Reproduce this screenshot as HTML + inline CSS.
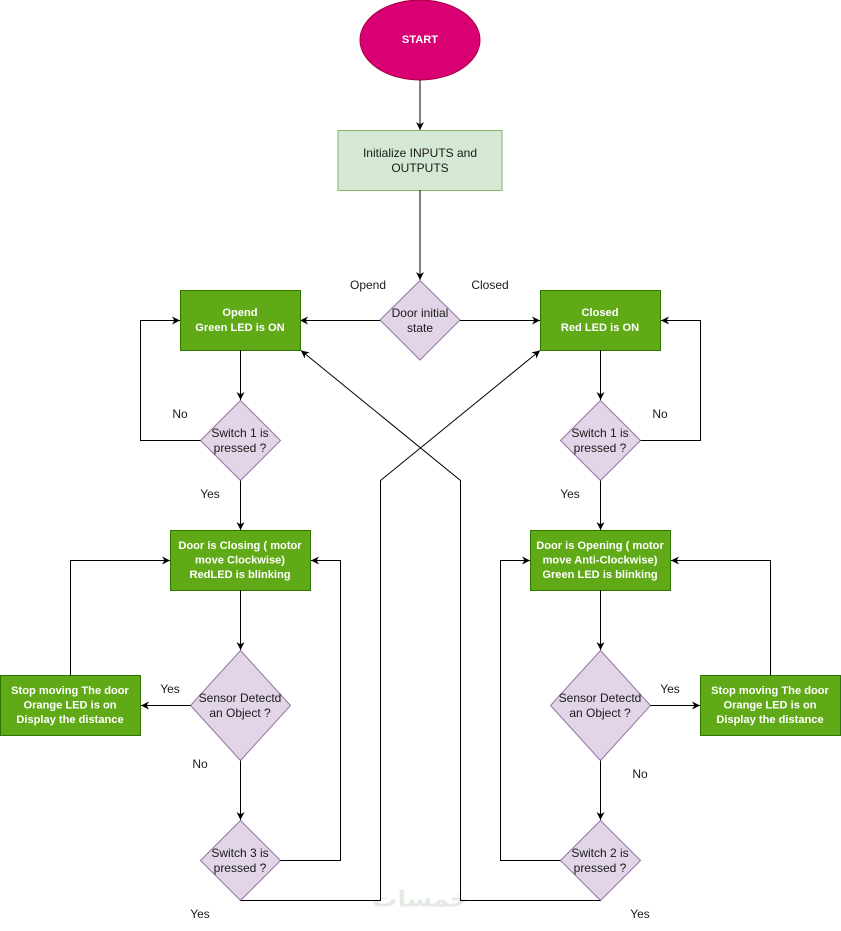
<!DOCTYPE html>
<html>
<head>
<meta charset="utf-8">
<style>
html,body{margin:0;padding:0;background:#fff;}
svg{display:block;}
text{font-family:"Liberation Sans",Arial,sans-serif;font-size:12px;}
.d{fill:#1a1a1a;text-anchor:middle;dominant-baseline:central;}
.w{fill:#fff;font-weight:bold;font-size:11.1px;text-anchor:middle;dominant-baseline:central;}
.l{fill:#1a1a1a;text-anchor:middle;dominant-baseline:central;}
.box{fill:#60a917;stroke:#2d7600;stroke-width:1;}
.dia{fill:#e1d5e7;stroke:#9673a6;stroke-width:1;}
.ln{fill:none;stroke:#000;stroke-width:1;}
</style>
</head>
<body>
<svg width="841" height="931" viewBox="0 0 841 931" xmlns="http://www.w3.org/2000/svg">
<defs>
<marker id="a" viewBox="0 0 10 10" refX="10" refY="5" markerWidth="8" markerHeight="8" markerUnits="userSpaceOnUse" orient="auto">
<path d="M0,0 L10,5 L0,10 L3,5 z" fill="#000"/>
</marker>
</defs>

<!-- watermark -->
<text x="420" y="900" style="font-family:'DejaVu Sans',sans-serif;font-size:22px;font-weight:bold;fill:#e2eae1;text-anchor:middle;dominant-baseline:central;" textLength="96" lengthAdjust="spacingAndGlyphs">خمسات</text>

<!-- START -->
<ellipse cx="420" cy="40" rx="60" ry="40" fill="#d80073" stroke="#a50040"/>
<text class="w" x="420" y="40">START</text>
<line class="ln" x1="420" y1="80" x2="420" y2="130" marker-end="url(#a)"/>

<!-- Init -->
<rect x="338" y="130.5" width="164" height="60" fill="#d5e8d4" stroke="#82b366"/>
<text class="d" x="420" y="153">Initialize INPUTS and</text>
<text class="d" x="420" y="168">OUTPUTS</text>
<line class="ln" x1="420" y1="190" x2="420" y2="280" marker-end="url(#a)"/>

<!-- Door initial state -->
<polygon class="dia" points="420,280.5 460,320 420,360 380,320"/>
<text class="d" x="420" y="313">Door initial</text>
<text class="d" x="420" y="328">state</text>
<text class="l" x="368" y="285">Opend</text>
<text class="l" x="490" y="285">Closed</text>
<line class="ln" x1="380" y1="320.5" x2="300" y2="320.5" marker-end="url(#a)"/>
<line class="ln" x1="460" y1="320.5" x2="540" y2="320.5" marker-end="url(#a)"/>

<!-- Opend box -->
<rect class="box" x="180.5" y="290.5" width="120" height="60"/>
<text class="w" x="240" y="313">Opend</text>
<text class="w" x="240" y="328">Green LED is ON</text>
<line class="ln" x1="240.5" y1="350" x2="240.5" y2="400" marker-end="url(#a)"/>

<!-- Closed box -->
<rect class="box" x="540.5" y="290.5" width="120" height="60"/>
<text class="w" x="600" y="313">Closed</text>
<text class="w" x="600" y="328">Red LED is ON</text>
<line class="ln" x1="600.5" y1="350" x2="600.5" y2="400" marker-end="url(#a)"/>

<!-- Switch 1 left -->
<polygon class="dia" points="240.5,400.5 280.5,440.5 240.5,480.5 200.5,440.5"/>
<text class="d" x="240" y="433">Switch 1 is</text>
<text class="d" x="240" y="448">pressed ?</text>
<polyline class="ln" points="200.5,440.5 140.5,440.5 140.5,320.5 180,320.5" marker-end="url(#a)"/>
<text class="l" x="180" y="414">No</text>
<text class="l" x="210" y="494">Yes</text>
<line class="ln" x1="240.5" y1="480.5" x2="240.5" y2="530" marker-end="url(#a)"/>

<!-- Switch 1 right -->
<polygon class="dia" points="600.5,400.5 640.5,440.5 600.5,480.5 560.5,440.5"/>
<text class="d" x="600" y="433">Switch 1 is</text>
<text class="d" x="600" y="448">pressed ?</text>
<polyline class="ln" points="640.5,440.5 700.5,440.5 700.5,320.5 661,320.5" marker-end="url(#a)"/>
<text class="l" x="660" y="414">No</text>
<text class="l" x="570" y="494">Yes</text>
<line class="ln" x1="600.5" y1="480.5" x2="600.5" y2="530" marker-end="url(#a)"/>

<!-- Door is Closing -->
<rect class="box" x="170.5" y="530.5" width="140" height="60"/>
<text class="w" x="240" y="546">Door is Closing ( motor</text>
<text class="w" x="240" y="560.5">move Clockwise)</text>
<text class="w" x="240" y="575">RedLED is blinking</text>
<line class="ln" x1="240.5" y1="590" x2="240.5" y2="650" marker-end="url(#a)"/>

<!-- Door is Opening -->
<rect class="box" x="530.5" y="530.5" width="140" height="60"/>
<text class="w" x="600" y="546">Door is Opening ( motor</text>
<text class="w" x="600" y="560.5">move Anti-Clockwise)</text>
<text class="w" x="600" y="575">Green LED is blinking</text>
<line class="ln" x1="600.5" y1="590" x2="600.5" y2="650" marker-end="url(#a)"/>

<!-- Sensor left -->
<polygon class="dia" points="240.5,650.5 290.5,705.5 240.5,760.5 190.5,705.5"/>
<text class="d" x="240" y="698">Sensor Detectd</text>
<text class="d" x="240" y="713">an Object ?</text>
<line class="ln" x1="190.5" y1="705.5" x2="141" y2="705.5" marker-end="url(#a)"/>
<text class="l" x="170" y="689">Yes</text>
<text class="l" x="200" y="764">No</text>
<line class="ln" x1="240.5" y1="760.5" x2="240.5" y2="820" marker-end="url(#a)"/>

<!-- Sensor right -->
<polygon class="dia" points="600.5,650.5 650.5,705.5 600.5,760.5 550.5,705.5"/>
<text class="d" x="600" y="698">Sensor Detectd</text>
<text class="d" x="600" y="713">an Object ?</text>
<line class="ln" x1="650.5" y1="705.5" x2="700" y2="705.5" marker-end="url(#a)"/>
<text class="l" x="670" y="689">Yes</text>
<text class="l" x="640" y="774">No</text>
<line class="ln" x1="600.5" y1="760.5" x2="600.5" y2="820" marker-end="url(#a)"/>

<!-- Stop left -->
<rect class="box" x="0.5" y="675.5" width="140" height="60"/>
<text class="w" x="70" y="691">Stop moving The door</text>
<text class="w" x="70" y="705.5">Orange LED is on</text>
<text class="w" x="70" y="720">Display the distance</text>
<polyline class="ln" points="70.5,675.5 70.5,560.5 170,560.5" marker-end="url(#a)"/>

<!-- Stop right -->
<rect class="box" x="700.5" y="675.5" width="140" height="60"/>
<text class="w" x="770" y="691">Stop moving The door</text>
<text class="w" x="770" y="705.5">Orange LED is on</text>
<text class="w" x="770" y="720">Display the distance</text>
<polyline class="ln" points="770.5,675.5 770.5,560.5 671,560.5" marker-end="url(#a)"/>

<!-- Switch 3 -->
<polygon class="dia" points="240.5,820.5 280.5,860.5 240.5,900.5 200.5,860.5"/>
<text class="d" x="240" y="853">Switch 3 is</text>
<text class="d" x="240" y="868">pressed ?</text>
<polyline class="ln" points="280.5,860.5 340.5,860.5 340.5,560.5 311,560.5" marker-end="url(#a)"/>
<polyline class="ln" points="240.5,900.5 380.5,900.5 380.5,480.5 540,350.5" marker-end="url(#a)"/>
<text class="l" x="200" y="914">Yes</text>

<!-- Switch 2 -->
<polygon class="dia" points="600.5,820.5 640.5,860.5 600.5,900.5 560.5,860.5"/>
<text class="d" x="600" y="853">Switch 2 is</text>
<text class="d" x="600" y="868">pressed ?</text>
<polyline class="ln" points="560.5,860.5 500.5,860.5 500.5,560.5 530,560.5" marker-end="url(#a)"/>
<polyline class="ln" points="600.5,900.5 460.5,900.5 460.5,480.5 301,350.5" marker-end="url(#a)"/>
<text class="l" x="640" y="914">Yes</text>
</svg>
</body>
</html>
